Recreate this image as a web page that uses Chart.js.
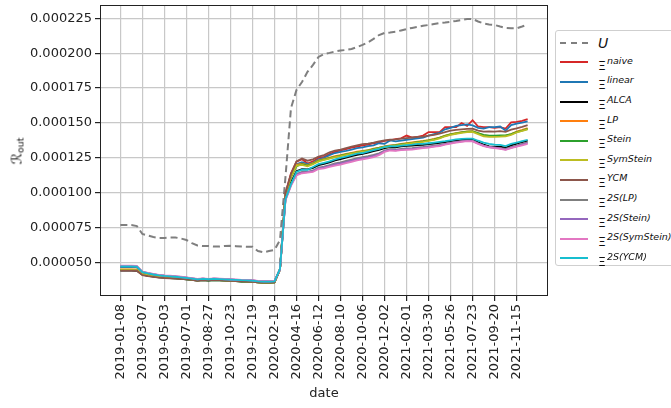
<!DOCTYPE html>
<html>
<head>
<meta charset="utf-8">
<script src="https://cdn.jsdelivr.net/npm/chart.js@4.4.1/dist/chart.umd.min.js"></script>
<style>
  body { margin: 0; background: #fff; font-family: "DejaVu Sans", sans-serif; }
  #wrap { position: relative; width: 671px; height: 408px; overflow: hidden; }
  #yTitle { position: absolute; left: 17px; top: 151px; transform: translate(-50%, -50%) rotate(-90deg);
            font-size: 14px; color: #111; white-space: nowrap; }
  #yTitle sub { font-size: 9.5px; vertical-align: -2px; }
  #legend { position: absolute; left: 555px; top: 30px; width: 130px; height: 236px; box-sizing: border-box;
            border: 1px solid #cfcfcf; border-radius: 3px; background: #fff; padding-top: 2px; }
  .row { height: 19.6px; display: flex; align-items: center; }
  .swatch { margin-left: 4px; width: 28px; height: 0; border-top: 2px solid; }
  .lbl { margin-left: 10px; color: #111; white-space: nowrap; position: relative; }
  .xi { font-size: 12.5px; position: relative; top: 2px; }
  .sup { font-size: 9.5px; font-style: italic; position: relative; top: -4px; margin-left: 1px; }
  .u { font-size: 14px; font-style: italic; }
</style>
</head>
<body>
<div id="wrap">
  <canvas id="chart" width="671" height="408"></canvas>
  <div id="yTitle">ℛ<sub>out</sub></div>
  <div id="legend"></div>
</div>
<script>
// tick labels on the x axis, one every TICK_STEP points
const tickLabels = ["2019-01-08", "2019-03-07", "2019-05-03", "2019-07-01", "2019-08-27", "2019-10-23",
  "2019-12-19", "2020-02-19", "2020-04-16", "2020-06-12", "2020-08-10", "2020-10-06", "2020-12-02",
  "2021-02-01", "2021-03-30", "2021-05-26", "2021-07-23", "2021-09-20", "2021-11-15"];
const TICK_STEP = 4;
const yTicks = [50, 75, 100, 125, 150, 175, 200, 225];   // in units of 1e-6

// values in units of 1e-6
const U = [76.9,76.9,76.9,76.2,70.5,69.4,68.3,67.6,67.6,68.0,68.0,67.3,66.2,64.0,62.3,61.9,61.9,61.5,61.5,61.9,
  62.0,61.8,61.5,61.4,61.4,58.3,57.4,58.3,59.0,66.2,111.3,160.7,173.6,179.4,186.6,191.6,197.3,199.4,200.2,201.2,
  201.9,202.3,203.0,204.4,205.9,207.7,210.2,213.0,214.5,214.8,215.3,216.3,217.3,218.1,218.8,219.6,220.2,220.9,221.6,222.0,
  222.5,223.1,223.8,224.5,224.5,222.7,221.3,220.6,220.2,219.1,218.1,217.8,217.8,219.1,220.6];
const naive = [47.0,47.0,47.0,46.8,42.8,41.9,41.2,40.6,40.2,39.9,39.7,39.3,38.9,38.4,37.8,38.2,37.9,38.2,38.0,37.8,
  37.6,37.4,37.2,37.1,36.9,36.4,36.2,36.2,36.4,45.5,100,114,122.3,
  124,121,122.5,125,125.8,127.8,129.3,130.3,131.3,132.3,133,134,134.5,135.5,136.2,137.2,137.5,138.5,139,141,
  139.5,140,141,143.5,143.5,143.5,147,147,147,150,148,152,147.5,147,147,146.5,147,146,150.5,150.8,151.5,152.8];
const linear = [46.8,46.8,46.8,46.6,42.6,41.8,41.1,40.5,40.1,39.8,39.6,39.2,38.8,38.3,37.7,38.1,37.8,38.1,37.9,37.7,
  37.5,37.3,37.1,37.0,36.8,36.3,36.1,36.1,36.3,45.3,99,112.5,120.5,
  122,120.5,121.5,124,125,127,128.5,129.3,130,131,132,132.5,133.5,134,135.5,135,137.5,136.8,137.3,138,
  138.5,139,139.5,141,142,143,145.5,146.5,148,148.5,149,148.3,146.5,146,147,147,147.5,144.5,148.5,149.5,150.3,151.2];
const ALCA = [44.3,44.3,44.3,44.2,41.3,40.6,40.0,39.5,39.2,38.9,38.7,38.4,38.1,37.7,37.1,37.5,37.2,37.5,37.3,37.1,
  36.9,36.7,36.5,36.4,36.2,35.8,35.6,35.6,35.8,45,96,107.5,115.5,
  117,116.8,117.8,119.8,120.8,121.8,123.2,124.2,125.2,126.2,127.2,127.8,128.8,129.8,130.8,132,132.8,132.6,133.2,133.6,
  133.8,134.2,134.3,134.8,135.3,135.8,136.3,137,137.6,138,138.3,138.2,136.2,134.5,133.2,133,133,132.3,134,135.2,136.3,137.3];
const LP = [45.2,45.2,45.2,45.0,42.0,41.2,40.6,40.0,39.7,39.4,39.2,38.9,38.5,38.1,37.5,37.9,37.6,37.9,37.7,37.5,
  37.3,37.1,36.9,36.8,36.6,36.1,35.9,35.9,36.1,45,98.5,112,120,
  120.8,119.8,121.2,123.2,124.2,125.2,126.2,127,127.8,128.6,129.4,130,130.6,131.6,132.4,133.3,133.9,134.4,135,135.6,
  136.1,136.6,137.1,137.8,138.6,139.6,141,142,142.8,143.5,144,144.2,142.6,141.2,140.7,140.6,140.8,141,142,143.8,145,146.3];
const Stein = [44.8,44.8,44.8,44.6,41.6,40.8,40.2,39.6,39.3,39.0,38.8,38.5,38.1,37.7,37.1,37.5,37.2,37.5,37.3,37.1,
  36.9,36.7,36.5,36.4,36.2,35.8,35.6,35.6,35.8,45,98,111,119,
  120.5,119.5,120.8,122.8,123.8,124.8,125.8,126.6,127.5,128.3,129,129.7,130.3,131.3,132.1,133,133.6,134.1,134.7,135.3,
  135.8,136.3,136.8,137.5,138.3,139.3,140.8,141.8,142.6,143.3,143.8,144,142.8,141.5,141,141,141.2,141.2,142,143.5,144.6,145.8];
const SymStein = [45.0,45.0,45.0,44.8,41.8,41.0,40.4,39.8,39.5,39.2,39.0,38.7,38.3,37.9,37.3,37.7,37.4,37.7,37.5,37.3,
  37.1,36.9,36.7,36.6,36.4,35.9,35.7,35.7,35.9,45,98,111.5,119.5,
  120,119,120.5,122.5,123.5,124.5,125.5,126.3,127.2,128,128.8,129.4,130,131,131.8,132.8,133.3,133.8,134.4,135,
  135.5,136,136.5,137.2,138,139,140.5,141.5,142.3,143,143.5,143.6,142,140.5,140,140,140.2,140.5,141.5,143.2,144.3,145.5];
const YCM = [44.3,44.3,44.3,44.2,41.0,40.3,39.8,39.3,39.0,38.8,38.6,38.3,38.0,37.6,37.0,37.5,37.3,37.6,37.4,37.2,
  37.0,36.8,36.6,36.5,36.3,35.9,35.7,35.7,35.9,45,99.5,113.5,122.5,
  124.5,123,124,126,127,129,130.3,131,132,133,134,134.8,135.3,136,136.8,137.5,138,138.3,138.8,139.2,
  139.6,140,140.3,141,141.5,142.3,143.5,144.5,145,145.5,145.8,146,144.5,143.8,144,143.8,144.2,143.6,145.2,146.2,147.3,148.5];
const s2LP = [47.4,47.4,47.4,47.2,43.3,42.4,41.6,41.0,40.6,40.3,40.0,39.6,39.2,38.7,38.1,38.5,38.2,38.5,38.3,38.1,
  37.9,37.7,37.5,37.4,37.2,36.7,36.5,36.5,36.7,45,95,106,113.5,
  115,115,116,118,118.8,119.8,121,121.8,122.8,123.8,124.8,125.5,126.2,127.2,128.3,130.2,131.2,131,131.5,131.8,
  132,132.5,132.8,133.3,133.8,134.3,135,135.8,136.5,137,137.4,137.3,135.5,133.8,132.8,132.4,132,131.4,132.8,133.8,135,136.2];
const s2Stein = [47.5,47.5,47.5,47.3,43.4,42.5,41.7,41.1,40.7,40.4,40.1,39.7,39.3,38.7,38.1,38.5,38.2,38.5,38.3,38.1,
  37.9,37.7,37.5,37.4,37.2,36.7,36.5,36.5,36.7,45,95,105.5,113,
  114.5,114.8,115.5,117.5,118.2,119.2,120.3,121,122,123,124,124.8,125.4,126.4,127.6,129.8,130.8,130.5,131,131.3,
  131.5,132,132.4,132.8,133.3,133.8,134.8,135.6,136.3,136.8,137.2,137,135.3,133.8,132.8,132.3,131.8,131,132.3,133.3,134.5,135.6];
const s2SymStein = [47.8,47.8,47.8,47.6,43.6,42.7,41.9,41.3,40.9,40.6,40.3,39.9,39.5,38.9,38.3,38.7,38.4,38.7,38.5,38.3,
  38.1,37.9,37.7,37.6,37.4,36.9,36.7,36.7,36.9,45,94.5,105,112.5,
  114,114.5,115,117,117.5,118.5,119.5,120.2,121.2,122.2,123.2,124,124.6,125.6,127,129.3,130.3,130,130.5,130.8,
  131,131.5,132,132.3,133,133.5,134.5,135.3,136,136.5,137,136.8,135,133.5,132.5,132,131.5,130.7,132,133,134,135];
const s2YCM = [47.3,47.3,47.3,47.1,43.2,42.3,41.5,40.9,40.5,40.2,39.9,39.5,39.1,38.6,38.0,38.4,38.1,38.4,38.2,38.0,
  37.8,37.6,37.4,37.3,37.1,36.6,36.4,36.4,36.6,45.5,95.5,106,115,
  116.5,116.5,118.5,120.5,121.5,122.5,124,125,126,127,128,128.5,129.5,130.5,131.5,132.8,133.5,133.3,133.8,134.2,
  134.5,135,135,135.5,136,136.5,137,137.6,138.2,138.6,138.8,138.8,137.3,136,135,134.5,134.3,133.5,135,136,137,138];

const seriesNames = ["U", "naive", "linear", "ALCA", "LP", "Stein", "SymStein", "YCM",
  "2S(LP)", "2S(Stein)", "2S(SymStein)", "2S(YCM)"];
const seriesValues = [U, naive, linear, ALCA, LP, Stein, SymStein, YCM, s2LP, s2Stein, s2SymStein, s2YCM];
const colors = ["#7f7f7f", "#d62728", "#1f77b4", "#000000", "#ff7f0e", "#2ca02c", "#bcbd22", "#8c564b",
  "#7f7f7f", "#9467bd", "#e377c2", "#17becf"];

const nPts = U.length;
const pad = (nPts - 1) * 0.05;
const gridColor = "#c8c8c8";
const tickFont = { family: "DejaVu Sans", size: 13 };

const datasets = seriesValues.map((vals, k) => ({
    label: seriesNames[k],
    data: vals.map((v, i) => ({ x: i, y: v })),
    borderColor: colors[k],
    borderWidth: k === 0 ? 2 : 1.8,
    borderDash: k === 0 ? [7, 4] : [],
    pointRadius: 0,
    tension: 0,
    fill: false,
    order: seriesValues.length - k
}));

// frame round the plot area, like the axes spines
const frame = {
    id: "frame",
    afterDraw(chart) {
        const { ctx, chartArea: a } = chart;
        ctx.save();
        ctx.strokeStyle = "#222";
        ctx.lineWidth = 1;
        ctx.strokeRect(a.left + 0.5, a.top + 0.5, a.right - a.left - 1, a.bottom - a.top - 1);
        ctx.restore();
    }
};

const ctx = document.getElementById("chart").getContext("2d");
const chart = new Chart(ctx, {
    type: "line",
    data: { datasets: datasets },
    plugins: [frame],
    options: {
        responsive: false,
        animation: false,
        layout: { padding: { left: 0, right: 123, top: 5, bottom: 0 } },
        plugins: { legend: { display: false }, tooltip: { enabled: false } },
        scales: {
            x: {
                type: "linear",
                min: -pad,
                max: nPts - 1 + pad,
                afterBuildTicks: s => { s.ticks = tickLabels.map((_, k) => ({ value: k * TICK_STEP })); },
                afterFit: s => { s.height = 112; s.paddingLeft = 0; s.paddingRight = 0; },
                ticks: {
                    autoSkip: false, minRotation: 90, maxRotation: 90, padding: 3,
                    color: "#222", font: tickFont,
                    callback: v => tickLabels[Math.round(v / TICK_STEP)]
                },
                grid: { color: gridColor, lineWidth: 1.2, tickLength: 5, tickColor: "#222" },
                border: { display: false },
                title: { display: true, text: "date", color: "#222", font: tickFont, padding: { top: 0, bottom: 7 } }
            },
            y: {
                min: 26.1,
                max: 234.5,
                afterBuildTicks: s => { s.ticks = yTicks.map(v => ({ value: v })); },
                afterFit: s => { s.width = 100; s.paddingTop = 0; s.paddingBottom = 0; },
                ticks: {
                    padding: 3, color: "#222", font: tickFont,
                    callback: v => (v * 1e-6).toFixed(6)
                },
                grid: { color: gridColor, lineWidth: 1.2, tickLength: 5, tickColor: "#222" },
                border: { display: false }
            }
        }
    }
});

// legend, built from the datasets
const legend = document.getElementById("legend");
chart.data.datasets.forEach((ds, k) => {
    const row = document.createElement("div");
    row.className = "row";
    const sw = document.createElement("div");
    sw.className = "swatch";
    sw.style.borderTopColor = ds.borderColor;
    sw.style.borderTopStyle = k === 0 ? "dashed" : "solid";
    const lbl = document.createElement("div");
    lbl.className = "lbl";
    if (k === 0) {
        lbl.innerHTML = '<span class="u">' + ds.label + '</span>';
    } else {
        lbl.innerHTML = '<span class="xi">Ξ</span><span class="sup">' + ds.label + '</span>';
    }
    row.appendChild(sw);
    row.appendChild(lbl);
    legend.appendChild(row);
});
</script>
</body>
</html>
